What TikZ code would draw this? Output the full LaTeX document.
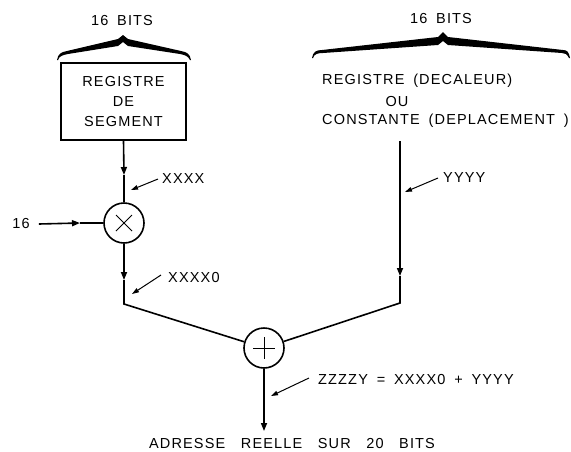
\documentclass[tikz,border=0pt]{standalone}
\usepackage{fontspec}
\setmainfont{Liberation Sans}[LetterSpace=8,WordSpace=1.7]
\newfontfamily\widefont{Liberation Sans}[LetterSpace=8,WordSpace=3.0]
\usetikzlibrary{arrows.meta}
\begin{document}
\begin{tikzpicture}[x=1pt,y=-1pt,
  txt/.style={font=\fontsize{14.5}{20}\selectfont, inner sep=0pt},
  wire/.style={line width=1.6pt},
  flow/.style={wire,-{Triangle[length=8pt,width=6pt]}},
  lbl/.style={line width=1pt,-{Triangle[length=7pt,width=4.5pt]}},
  op/.style={circle,draw,line width=1.6pt,minimum size=40pt,inner sep=0pt},
  cross/.style={line width=1pt}]
\useasboundingbox (0,0) rectangle (571,451);

% braces
\fill (57,60) .. controls (58,54) and (61,52) .. (67,51) -- (118,39) -- (123,35) -- (128,39) -- (181,51) .. controls (187,52) and (190,54) .. (191,60) -- (190,60) .. controls (188,56) and (185,55) .. (180,54) -- (128,46) -- (123,42) -- (118,46) -- (68,54) .. controls (63,55) and (59,56) .. (58,60) -- cycle;
\fill (312,58) .. controls (313,52) and (316,50) .. (322,50) -- (438,37) -- (443,32) -- (448,37) -- (563,50) .. controls (567,50) and (569,52) .. (570,58) -- (569,58) .. controls (567,54) and (565,53) .. (562,53) -- (448,45) -- (443,41) -- (438,45) -- (323,53) .. controls (318,53) and (314,54) .. (313,58) -- cycle;

% texts
\node[txt] (bitsL) at (122,21) {16 BITS};
\node[txt] (bitsR) at (441,19) {16 BITS};
\node[draw,line width=1.6pt,minimum width=125pt,minimum height=77pt,align=center,txt] (seg) at (123.5,101.5) {REGISTRE\\DE\\SEGMENT};
\node[txt,anchor=west] (r1) at (322,81) {REGISTRE (DECALEUR)};
\node[txt] (r2) at (397,102) {OU};
\node[txt,anchor=west] (r3) at (322,121) {CONSTANTE (DEPLACEMENT )};

% operators
\node[op] (mul) at (124,223) {};
\draw[cross] ([shift={(-8,-8)}]mul.center) -- ([shift={(8,8)}]mul.center);
\draw[cross] ([shift={(-8,8)}]mul.center) -- ([shift={(8,-8)}]mul.center);
\node[op] (add) at (264,348) {};
\draw[cross] ([shift={(-11,0)}]add.center) -- ([shift={(11,0)}]add.center);
\draw[cross] ([shift={(0,-11)}]add.center) -- ([shift={(0,11)}]add.center);

\node[txt] (sixteen) at (21,224) {16};

% coordinates
\coordinate (a1) at (124,175);
\coordinate (a2) at (80,223);
\coordinate (a3) at (124,280);
\coordinate (cL) at (124,304);
\coordinate (rTop) at (400,141);
\coordinate (a4) at (400,276);
\coordinate (cR) at (400,303);
\coordinate (out) at (264,431);

% main wires
\draw[flow] (seg.south) -- (a1);
\draw[wire] (a1) -- (mul.north);
\draw[flow] ([xshift=9pt]sixteen.east) -- (a2);
\draw[wire] (a2) -- (mul.west);
\draw[flow] (mul.south) -- (a3);
\draw[wire] (a3) -- (cL) -- (add);
\draw[flow] (rTop) -- (a4);
\draw[wire] (a4) -- (cR) -- (add);
\draw[flow] (add.south) -- (out);

% labels
\node[txt,anchor=west] (lx) at (162,179) {XXXX};
\node[txt,anchor=west] (ly) at (443,178) {YYYY};
\node[txt,anchor=west] (lx0) at (168,278) {XXXX0};
\node[txt,anchor=west] (lz) at (318,380) {ZZZZY = XXXX0 + YYYY};
\node[txt,font=\widefont\fontsize{14.5}{20}\selectfont] (res) at (292,443) {ADRESSE REELLE SUR 20 BITS};

\coordinate (tx) at (131,190);
\coordinate (ty) at (405,192);
\coordinate (tx0) at (132,294);
\coordinate (tz) at (271,396);
\draw[lbl] ([xshift=-4pt]lx.west) -- (tx);
\draw[lbl] ([xshift=-5pt]ly.west) -- (ty);
\draw[lbl] ([xshift=-7pt,yshift=3pt]lx0.west) -- (tx0);
\draw[lbl] ([xshift=-9pt,yshift=2pt]lz.west) -- (tz);
\end{tikzpicture}
\end{document}
